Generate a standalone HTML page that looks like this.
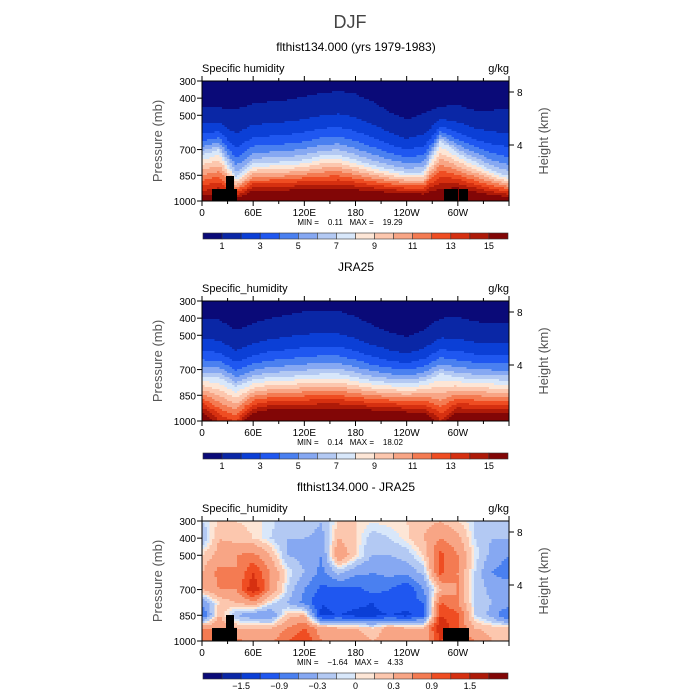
<!DOCTYPE html>
<html><head><meta charset="utf-8"><style>
body{margin:0;background:#fff;width:700px;height:700px;overflow:hidden;font-family:"Liberation Sans",sans-serif}
#root{position:relative;width:700px;height:700px}
</style></head><body>
<div id="root">
<svg id="svg" width="700" height="700" style="position:absolute;left:0;top:0"></svg>
</div>
<script>
// ---------- data ----------
const lons = [0,20,40,60,80,100,120,140,160,180,200,220,240,260,280,300,320,340,360];
// panel 1 (model)
const m_qs = [16,16.5,16,18,18,18,18.5,18,18,18,18,18,18,17.5,17,18,17.5,17,16.5];
const m_p7 = [730,700,860,780,775,770,760,735,730,760,790,815,835,830,650,720,770,820,856];
const m_p1 = [448,455,467,430,420,410,390,370,360,375,420,480,525,490,448,440,470,470,465];
// panel 2 (JRA25)
const j_qs = [17,14,13,17,18,18,18,18,18,18,18,18,17.5,17,14,17,17,17,17];
const j_p7 = [742,745,800,760,745,740,733,725,725,745,765,775,782,770,723,745,755,760,762];
const j_p1 = [400,410,470,430,400,380,362,355,360,390,440,480,508,470,400,395,420,430,430];
// panel 3 (difference) rows by pressure
const d_levels = [300,400,500,600,700,775,850,925,1000];
const d_vals = [
 [-0.1,0.1,0.1,0.05,-0.05,-0.2,-0.1,-0.3,0.1,0.1,0.02,0.05,0.1,0.2,0.3,0.1,-0.1,-0.1,-0.2],
 [-0.3,0.3,0.2,0.1,-0.1,-0.3,-0.3,-0.4,0.3,0.1,-0.2,-0.1,0.05,0.3,0.6,0.4,-0.1,-0.3,-0.3],
 [0.1,0.4,0.6,0.7,0.3,-0.3,-0.4,-0.6,0.6,0.1,-0.3,-0.3,-0.2,0.1,1.0,0.6,0.0,-0.4,-0.6],
 [0.3,0.7,0.6,1.2,0.6,0.0,-0.3,-0.7,-0.2,-0.5,-0.6,-0.5,-0.5,-0.2,1.0,0.6,-0.1,-0.6,-0.8],
 [0.3,0.6,0.6,1.5,0.6,-0.1,-0.6,-1.0,-1.0,-1.0,-0.8,-0.9,-1.2,-0.6,0.3,0.6,-0.1,-0.4,-0.3],
 [-0.5,0.1,0.3,0.5,0.0,-0.3,-0.7,-1.2,-1.0,-1.1,-1.2,-1.0,-1.0,-0.9,0.9,0.6,-0.1,-0.3,-0.4],
 [-1.0,0.3,-0.3,-0.5,-0.6,0.2,0.3,-1.3,-1.2,-1.3,-1.3,-1.2,-1.3,-1.0,1.2,1.0,-0.1,-0.4,-1.0],
 [0.6,0.6,0.3,0.3,0.3,0.6,0.9,0.4,0.3,0.3,0.1,0.4,0.3,0.3,1.5,0.9,0.3,0.2,0.2],
 [0.6,0.6,0.7,0.5,0.5,0.9,1.2,0.6,0.6,0.6,0.3,0.5,0.4,0.3,1.2,0.9,0.6,0.3,0.3]
];
const q_bounds = [1,2,3,4,5,6,7,8,9,10,11,12,13,14,15];
const d_bounds = [-1.8,-1.5,-1.2,-0.9,-0.6,-0.3,-0.1,0,0.1,0.3,0.6,0.9,1.2,1.5,1.8];
const q_labels = ["1","3","5","7","9","11","13","15"];
const d_labels = ["\u22121.5","\u22120.9","\u22120.3","0","0.3","0.9","1.5"];
const p_ticks = [300,400,500,700,850,1000];
const lon_ticks = ["0","60E","120E","180","120W","60W"];
const minmax = [["0.11","19.29"],["0.14","18.02"],["\u22121.64","4.33"]];
const titles = ["flthist134.000 (yrs 1979-1983)","JRA25","flthist134.000 - JRA25"];
const varnames = ["Specific humidity","Specific_humidity","Specific_humidity"];
const palette = ['#0a0a78','#0a27a6','#0b3fd6','#1f57f0','#4a80f0','#86a8f2','#b3c9f3','#d8e7fa','#fde6d6','#fcc7ae','#f8a585','#f47b52','#ef4d22','#d63010','#ae1a08','#820606'];

// ---------- geometry ----------
const X0=202, X1=509, PH=120;
const tops=[81,301,521];
const xOf = lon => X0 + lon/360*(X1-X0);
const yOf = (p,top) => top + (p-300)/700*PH;
const pOf = (y,top) => 300 + (y-top)/PH*700;
const svg=document.getElementById('svg');
const NS='http://www.w3.org/2000/svg';
function mk(tag,attrs,parent){const e=document.createElementNS(NS,tag);for(const k in attrs)e.setAttribute(k,attrs[k]);(parent||svg).appendChild(e);return e;}
function txt(x,y,s,size,anchor,fill,parent){const t=mk('text',{x:x,y:y,'font-size':size,'text-anchor':anchor||'middle',fill:fill||'#000','font-family':'Liberation Sans, sans-serif'},parent);t.textContent=s;return t;}
function interp(arr,lon){lon=Math.max(0,Math.min(360,lon));const i=Math.min(Math.floor(lon/20),17);const f=(lon-lons[i])/20;return arr[i]*(1-f)+arr[i+1]*f;}
function qField(qs,p7,p1,lon,p){
  const s=interp(qs,lon),a=interp(p7,lon),b=interp(p1,lon);
  if(p>=a) return 7+(s-7)*(p-a)/(1000-a);
  return 7*Math.pow(1/7,(a-p)/(a-b));
}
function dField(lon,p){
  lon=Math.max(0,Math.min(360,lon));
  let r=0; while(r<d_levels.length-2 && p>d_levels[r+1]) r++;
  const fr=(p-d_levels[r])/(d_levels[r+1]-d_levels[r]);
  const i=Math.min(Math.floor(lon/20),17), f=(lon-lons[i])/20;
  const v0=d_vals[r][i]*(1-f)+d_vals[r][i+1]*f, v1=d_vals[r+1][i]*(1-f)+d_vals[r+1][i+1]*f;
  return v0*(1-fr)+v1*fr;
}
function idx(v,bounds){let k=0;while(k<bounds.length&&v>=bounds[k])k++;return k;}

// title
const tt=txt(350,28,'DJF',18,'middle','#444');


for(let pi=0;pi<3;pi++){
  const top=tops[pi];
  const g=mk('g',{});
  
  
  const t1=txt(356,top-30,titles[pi],12,'middle','#000',g);
  
  const t2=txt(X0,top-9,varnames[pi],11,'start','#000',g);
  
  const t3=txt(X1,top-9,'g/kg',11,'end','#000',g);
  
  // field cells
  const field=mk('g',{'shape-rendering':'crispEdges'},g);
  
  
  const ncol=123, cw=(X1-X0)/ncol, ch=2;
  for(let y=top;y<top+PH;y+=ch){
    const p=pOf(y+ch/2,top);
    let runStart=0, runC=-1;
    for(let k=0;k<=ncol;k++){
      let c=-1;
      if(k<ncol){
        const lon=(k+0.5)/ncol*360;
        if(pi===0) c=idx(qField(m_qs,m_p7,m_p1,lon,p),q_bounds);
        else if(pi===1) c=idx(qField(j_qs,j_p7,j_p1,lon,p),q_bounds);
        else c=idx(dField(lon,p),d_bounds);
      }
      if(c!==runC){
        if(runC>=0){const r=mk('rect',{x:X0+runStart*cw,y:y,width:(k-runStart)*cw+0.3,height:ch+0.3,fill:palette[runC]},field);
          }
        runStart=k;runC=c;
      }
    }
  }
  // topography
  if(pi!==1){
    const topo=[[212,189,25,12],[226,176,8,25],[444,189,14,12],[459,189,9,12]];
    const tp = pi===2 ? [[212,188,25,13],[226,175,8,26],[443,188,26,13]] : topo;
    tp.forEach(b=>{const r=mk('rect',{x:b[0],y:top+b[1]-81,width:b[2],height:b[3],fill:'#000'},g);
      });
  }
  // frame
  const fr=mk('rect',{x:X0,y:top,width:X1-X0,height:PH,fill:'none',stroke:'#000','stroke-width':1},g);
  
  // y ticks
  p_ticks.forEach(p=>{const y=yOf(p,top);
    mk('line',{x1:X0-5,y1:y,x2:X0,y2:y,stroke:'#000'},g);
    const l=txt(X0-6,y+4,String(p),10,'end','#000',g);
    });
  const yl=txt(0,0,'Pressure (mb)',13,'middle','#555',g);
  yl.setAttribute('transform','translate(162,'+(top+60)+') rotate(-90)');
  
  // right axis
  [[8,top+11],[4,top+64]].forEach(h=>{
    mk('line',{x1:X1,y1:h[1],x2:X1+5,y2:h[1],stroke:'#000'},g);
    const l=txt(X1+8,h[1]+4,String(h[0]),10,'start','#000',g);
    });
  const hl=txt(0,0,'Height (km)',13,'middle','#555',g);
  hl.setAttribute('transform','translate(548,'+(top+60)+') rotate(-90)');
  
  // x ticks
  for(let k=0;k<=12;k++){const x=xOf(k*30);const major=k%2===0;
    mk('line',{x1:x,y1:top+PH,x2:x,y2:top+PH+(major?5:3),stroke:'#000'},g);
    mk('line',{x1:x,y1:top,x2:x,y2:top-(major?5:3),stroke:'#000'},g);
    if(major&&k<12){const l=txt(x,top+PH+15,lon_ticks[k/2],10,'middle','#000',g);
      }}
  const mm=txt(350,top+PH+24,'MIN =\u00a0\u00a0\u00a0\u00a0'+minmax[pi][0]+'\u00a0\u00a0\u00a0MAX =\u00a0\u00a0\u00a0\u00a0'+minmax[pi][1],8,'middle','#000',g);
  
  // colorbar
  const cb=mk('g',{},g);
  
  const cy=top+PH+32, bw=(508-203)/16;
  palette.forEach((c,i)=>{const r=mk('rect',{x:203+i*bw,y:cy,width:bw,height:6,fill:c,stroke:'#333','stroke-width':0.6},cb);
    });
  const labs = pi===2 ? d_labels : q_labels;
  labs.forEach((s,i)=>{const b = pi===2 ? 2+2*i : 1+2*i;
    const l=txt(203+b*bw,cy+16,s,9,'middle','#000',cb);
    });
}
</script>
</body></html>
